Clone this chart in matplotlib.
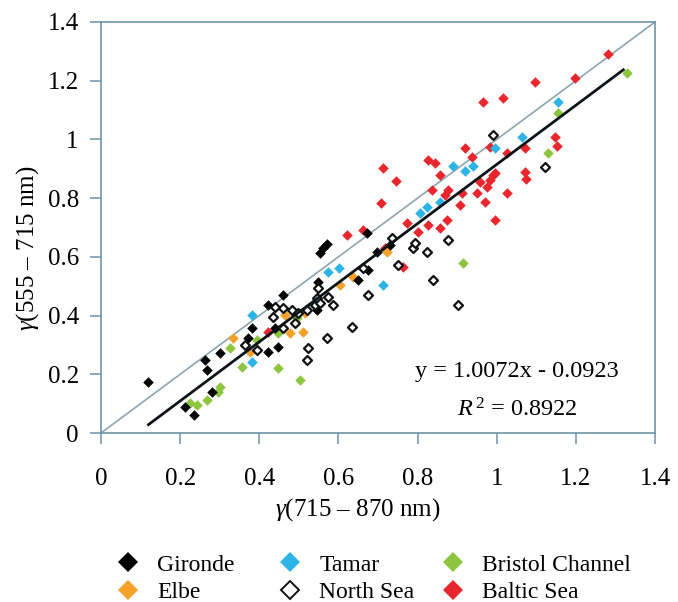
import matplotlib
matplotlib.use('Agg')
import matplotlib.pyplot as plt
from matplotlib.lines import Line2D
import numpy as np

plt.rcParams['font.family'] = ['Liberation Serif', 'DejaVu Serif']
plt.rcParams['mathtext.fontset'] = 'custom'
plt.rcParams['mathtext.rm'] = 'Liberation Serif'
plt.rcParams['mathtext.it'] = 'Liberation Serif:italic'

# ---------------- data ----------------
gironde_x = [0.119, 0.263, 0.268, 0.301, 0.281, 0.212, 0.235, 0.382, 0.371, 0.422,
             0.447, 0.422, 0.460, 0.440, 0.548, 0.546, 0.561, 0.571, 0.553, 0.672,
             0.697, 0.730, 0.675, 0.650]
gironde_y = [0.174, 0.249, 0.215, 0.272, 0.140, 0.089, 0.061, 0.358, 0.324, 0.276,
             0.293, 0.436, 0.470, 0.358, 0.514, 0.419, 0.630, 0.644, 0.613, 0.681,
             0.617, 0.640, 0.555, 0.521]

elbe_x = [0.334, 0.377, 0.465, 0.516, 0.478, 0.510, 0.604, 0.637, 0.723]
elbe_y = [0.324, 0.276, 0.402, 0.409, 0.341, 0.344, 0.504, 0.531, 0.616]

tamar_x = [0.382, 0.382, 0.574, 0.601, 0.713, 0.806, 0.824, 0.857, 0.890, 0.920,
           0.940, 0.996, 1.064, 1.155]
tamar_y = [0.402, 0.242, 0.548, 0.562, 0.504, 0.749, 0.770, 0.787, 0.909, 0.892,
           0.909, 0.971, 1.008, 1.127]

north_x = [0.364, 0.394, 0.435, 0.440, 0.460, 0.460, 0.483, 0.490, 0.498, 0.521,
           0.541, 0.546, 0.548, 0.574, 0.553, 0.586, 0.523, 0.520, 0.571, 0.634,
           0.675, 0.662, 0.750, 0.735, 0.788, 0.794, 0.824, 0.839, 0.877, 0.902,
           1.122, 0.991]
north_y = [0.300, 0.283, 0.395, 0.429, 0.426, 0.358, 0.419, 0.375, 0.409, 0.419,
           0.436, 0.460, 0.494, 0.463, 0.443, 0.436, 0.290, 0.249, 0.324, 0.361,
           0.470, 0.562, 0.572, 0.664, 0.630, 0.647, 0.616, 0.521, 0.657, 0.436,
           0.906, 1.015]

bristol_x = [0.225, 0.243, 0.268, 0.296, 0.301, 0.326, 0.356, 0.394, 0.447, 0.447,
             0.495, 0.503, 0.915, 1.130, 1.155, 1.329]
bristol_y = [0.102, 0.095, 0.112, 0.140, 0.157, 0.290, 0.225, 0.317, 0.341, 0.221,
             0.392, 0.180, 0.579, 0.954, 1.090, 1.226]

baltic_x = [0.422, 0.622, 0.662, 0.718, 0.763, 0.773, 0.801, 0.826, 0.857, 0.874,
            0.996, 0.907, 0.970, 0.836, 0.877, 0.869, 0.912, 0.950, 1.026, 0.975,
            0.958, 0.857, 0.983, 0.991, 0.996, 1.072, 1.074, 0.826, 0.844, 0.938,
            0.920, 0.983, 1.026, 1.072, 1.147, 1.152, 0.965, 1.016, 1.097, 1.198,
            1.281, 0.713, 0.746, 0.708]
baltic_y = [0.344, 0.674, 0.691, 0.630, 0.565, 0.715, 0.685, 0.708, 0.698, 0.725,
            0.725, 0.777, 0.787, 0.828, 0.828, 0.811, 0.817, 0.817, 0.817, 0.838,
            0.855, 0.879, 0.862, 0.879, 0.886, 0.889, 0.865, 0.930, 0.920, 0.940,
            0.971, 0.974, 0.954, 0.971, 1.008, 0.978, 1.127, 1.141, 1.195, 1.209,
            1.291, 0.903, 0.858, 0.783]

fit_slope = 1.0072
fit_intercept = -0.0923
fit_range = [0.12, 1.32]
r2 = 0.8922

tick_values = [0, 0.2, 0.4, 0.6, 0.8, 1.0, 1.2, 1.4]
tick_labels = ['0', '0.2', '0.4', '0.6', '0.8', '1', '1.2', '1.4']

# ---------------- style ----------------
C_GIR = '#000000'
C_ELB = '#f4a12c'
C_TAM = '#2cb4e6'
C_BRI = '#8cc63e'
C_BAL = '#e8262d'
SPINE = '#6f93a8'

W, H = 678, 602
fig = plt.figure(figsize=(W / 100, H / 100), dpi=100)
ax = fig.add_axes([101 / W, (H - 433) / H, 554 / W, 411 / H])

ms = 7.6
common = dict(marker='D', s=ms ** 2 * 0.5, linewidths=0)
ax.scatter(baltic_x, baltic_y, color=C_BAL, zorder=3, **common)
ax.scatter(bristol_x, bristol_y, color=C_BRI, zorder=3, **common)
ax.scatter(tamar_x, tamar_y, color=C_TAM, zorder=3, **common)
ax.scatter(elbe_x, elbe_y, color=C_ELB, zorder=3, **common)
ax.scatter(gironde_x, gironde_y, color=C_GIR, zorder=3, **common)
ax.scatter(north_x, north_y, marker='D', s=ms ** 2 * 0.36, facecolors='white',
           edgecolors='#111111', linewidths=1.6, zorder=3)

# 1:1 line and regression line
ax.plot([0, 1.4], [0, 1.4], color='#8ea4b1', lw=1.2, zorder=2)
fx = np.array(fit_range)
ax.plot(fx, fit_slope * fx + fit_intercept, color='#0b1518', lw=2.0, zorder=4)

ax.set_xlim(0, 1.4)
ax.set_ylim(0, 1.4)
ax.set_xticks(tick_values)
ax.set_xticklabels(tick_labels)
ax.set_yticks(tick_values)
ax.set_yticklabels(tick_labels)
for sp in ax.spines.values():
    sp.set_color(SPINE)
    sp.set_linewidth(1.2)
ax.tick_params(axis='both', direction='out', length=8, width=1.1, color=SPINE,
               labelsize=18, labelcolor='black')
ax.tick_params(axis='x', pad=17)
ax.tick_params(axis='y', pad=8)

fig.text(358 / W, 1 - 510 / H, r'$\mathit{\gamma}$(715 – 870 nm)', fontsize=18,
         ha='center', va='center')
fig.text(28 / W, 1 - 248 / H, r'$\mathit{\gamma}$(555 – 715 nm)', fontsize=18,
         ha='center', va='center', rotation=90)

fig.text(517 / W, 1 - 372 / H,
         'y = %.4fx - %.4f' % (fit_slope, -fit_intercept),
         fontsize=17.5, ha='center', va='center')
fig.text(517 / W, 1 - 410 / H, r'$R^{\,2}$ = %.4f' % r2,
         fontsize=17.5, ha='center', va='center')

# legend: three columns
def h(color, hollow=False):
    if hollow:
        return Line2D([], [], marker='D', ls='none', markersize=9.5,
                      markerfacecolor='white', markeredgecolor='#111111',
                      markeredgewidth=1.4)
    return Line2D([], [], marker='D', ls='none', markersize=10.5,
                  markerfacecolor=color, markeredgewidth=0)

cols = [
    ([h(C_GIR), h(C_ELB)], ['Gironde', 'Elbe'], 116),
    ([h(C_TAM), h(None, True)], ['Tamar', 'North Sea'], 278),
    ([h(C_BRI), h(C_BAL)], ['Bristol Channel', 'Baltic Sea'], 441),
]
for hs, labs, x0 in cols:
    fig.legend(hs, labs, loc='upper left', bbox_to_anchor=(x0 / W, 1 - 554 / H),
               frameon=False, fontsize=17, handlelength=1.0, handletextpad=0.74,
               labelspacing=0.27, borderpad=0, borderaxespad=0)

fig.savefig('out.png', dpi=100, facecolor='white')
